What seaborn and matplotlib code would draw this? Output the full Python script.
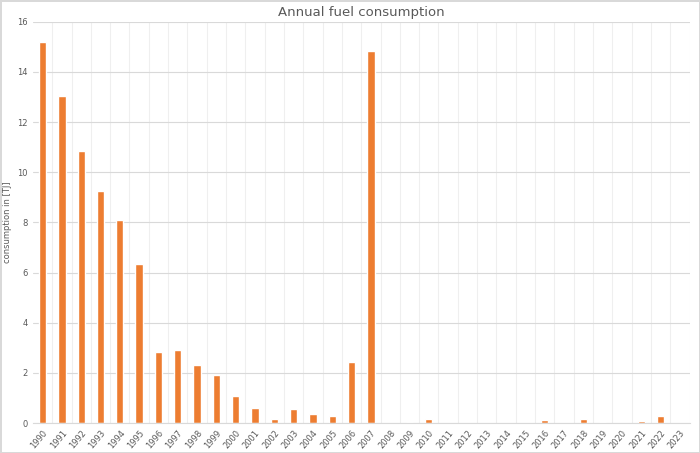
import matplotlib
matplotlib.use("Agg")
import matplotlib.pyplot as plt
import seaborn as sns
import pandas as pd

years = [str(y) for y in range(1990, 2024)]
consumption = [15.2, 13.05, 10.85, 9.25, 8.1, 6.35, 2.85, 2.9, 2.3, 1.9,
               1.1, 0.6, 0.15, 0.55, 0.35, 0.27, 2.45, 14.85, 0.0, 0.03,
               0.15, 0.0, 0.0, 0.0, 0.0, 0.0, 0.12, 0.0, 0.18, 0.03,
               0.0, 0.1, 0.3, 0.0]

df = pd.DataFrame({"year": years, "value": consumption})

sns.set_style("white")
fig, ax = plt.subplots(figsize=(7, 4.53), dpi=100)
sns.barplot(data=df, x="year", y="value", color="#ED7D31", width=0.38,
            saturation=1, ax=ax)

ax.set_ylim(0, 16)
ax.set_yticks(range(0, 17, 2))
ax.set_xlim(-0.5, len(years) - 0.5)
ax.set_xticks([i + 0.5 for i in range(len(years))], minor=True)
ax.grid(True, axis="y", color="#D9D9D9", linewidth=0.8)
ax.grid(True, axis="x", which="minor", color="#EFEFEF", linewidth=0.8)
ax.set_axisbelow(True)
ax.tick_params(axis="x", which="both", length=0, labelsize=6, labelcolor="#595959", rotation=50)
ax.tick_params(axis="y", length=0, labelsize=6, labelcolor="#595959")
for lbl in ax.get_xticklabels():
    lbl.set_ha("right")
    lbl.set_rotation_mode("anchor")
for s in ["top", "right", "left"]:
    ax.spines[s].set_visible(False)
ax.spines["bottom"].set_color("#D9D9D9")
ax.set_xlabel("")
ax.set_ylabel("consumption in [TJ]", fontsize=6, color="#595959")
ax.set_title("Annual fuel consumption", fontsize=9.5, color="#595959", pad=4)

fig.subplots_adjust(left=0.047, right=0.985, top=0.952, bottom=0.066)
fig.patch.set_edgecolor("#D9D9D9")
fig.patch.set_linewidth(1)
fig.savefig("out.png", dpi=100, edgecolor=fig.get_edgecolor())
